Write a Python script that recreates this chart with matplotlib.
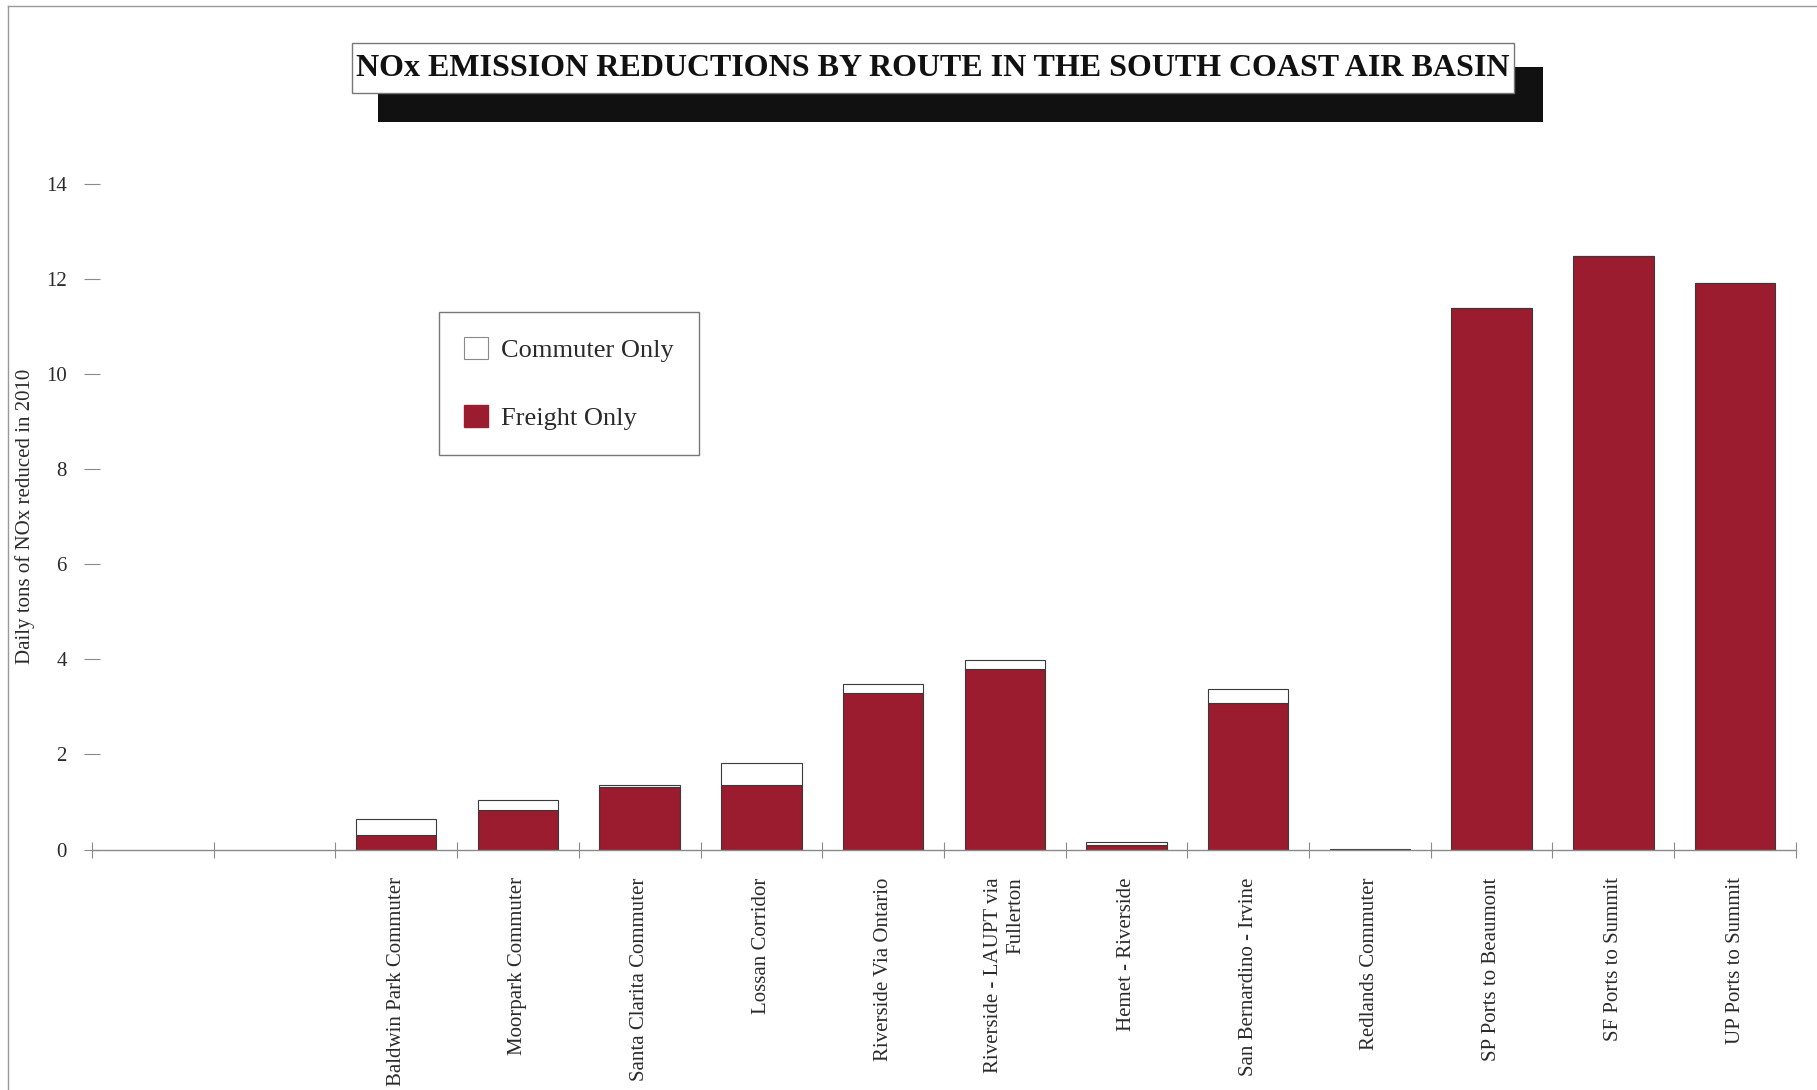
import numpy as np
import matplotlib
matplotlib.use("Agg")
import matplotlib.pyplot as plt
from matplotlib.patches import Patch, Rectangle

plt.rcParams['font.family'] = ['Liberation Serif', 'DejaVu Serif']

# daily tons of NOx reduced in 2010, per route
routes = ["Baldwin Park Commuter", "Moorpark Commuter", "Santa Clarita Commuter",
          "Lossan Corridor", "Riverside Via Ontario", "Riverside - LAUPT via\nFullerton",
          "Hemet - Riverside", "San Bernardino - Irvine", "Redlands Commuter",
          "SP Ports to Beaumont", "SF Ports to Summit", "UP Ports to Summit"]
freight = [0.31, 0.83, 1.31, 1.35, 3.30, 3.80, 0.10, 3.09, 0.00, 11.40, 12.49, 11.92]
commuter = [0.34, 0.22, 0.04, 0.47, 0.18, 0.19, 0.06, 0.29, 0.02, 0.0, 0.0, 0.0]
empty_slots = 2  # two unused categories at the left of the axis

red = '#9b1b2f'
edge = '#3a3a3a'
grey = '#8a8a8a'
txt = '#2a2a2a'

fig = plt.figure(figsize=(18.17, 10.9), dpi=100)
ax = fig.add_axes([0.0506, 0.2206, 0.9378, 0.6106])

x = np.arange(len(routes)) + empty_slots
ax.bar(x, freight, width=0.66, color=red, edgecolor=edge, linewidth=0.8)
ax.bar(x, commuter, width=0.66, bottom=freight, color='white', edgecolor=edge, linewidth=0.8)

ax.set_xlim(-0.5, len(routes) + empty_slots - 0.5)
ax.set_ylim(0, 14)

for s in ['top', 'right', 'left']:
    ax.spines[s].set_visible(False)
ax.spines['bottom'].set_color(grey)
ax.spines['bottom'].set_linewidth(1.0)

ax.set_yticks(np.arange(0, 15, 2))
ax.tick_params(axis='y', direction='inout', length=12, width=0.8, color=grey,
               labelsize=15, labelcolor=txt, pad=12)

ax.set_xticks(x)
ax.set_xticklabels(routes, rotation=90, fontsize=15, color=txt, multialignment='right')
ax.tick_params(axis='x', which='major', length=0, pad=20)
ax.set_xticks(np.arange(-0.5, len(routes) + empty_slots, 1.0), minor=True)
ax.tick_params(axis='x', which='minor', direction='inout', length=12, width=0.8, color=grey)

ax.set_ylabel("Daily tons of NOx reduced in 2010", fontsize=15, color=txt)
ax.yaxis.set_label_coords(-0.0335, 0.5)

handles = [Patch(facecolor='white', edgecolor=grey, linewidth=0.8, label='Commuter Only'),
           Patch(facecolor=red, edgecolor=red, label='Freight Only')]
leg = fig.legend(handles=handles, loc='upper left', bbox_to_anchor=(0.2416, 0.7138),
                 fontsize=19, frameon=True, fancybox=False, borderpad=0.95,
                 labelspacing=1.62, handlelength=0.9, handleheight=0.9,
                 handletextpad=0.5, borderaxespad=0)
leg.get_frame().set_edgecolor('#555555')
leg.get_frame().set_linewidth(1.0)
for t in leg.get_texts():
    t.set_color(txt)

W, H = 1817, 1090
# title banner: black drop shadow behind a white framed box
fig.patches.append(Rectangle((378 / W, 1 - 122 / H), (1543 - 378) / W, (122 - 67) / H,
                             transform=fig.transFigure, facecolor='#111111',
                             edgecolor='none', zorder=1))
fig.patches.append(Rectangle((352 / W, 1 - 93 / H), (1514 - 352) / W, (93 - 43) / H,
                             transform=fig.transFigure, facecolor='white',
                             edgecolor='#777777', linewidth=1.0, zorder=2))
fig.text(933 / W, 1 - 68 / H, "NOx EMISSION REDUCTIONS BY ROUTE IN THE SOUTH COAST AIR BASIN",
         ha='center', va='center', fontsize=23, fontweight='bold', color='#111111', zorder=3)

# page frame along the left and top edges
fig.add_artist(plt.Line2D([8 / W, 8 / W], [0, 1 - 6 / H], transform=fig.transFigure,
                          color='#999999', linewidth=1.0))
fig.add_artist(plt.Line2D([8 / W, 1], [1 - 6 / H, 1 - 6 / H], transform=fig.transFigure,
                          color='#999999', linewidth=1.0))

fig.savefig('out.png', dpi=100)
plt.close(fig)
